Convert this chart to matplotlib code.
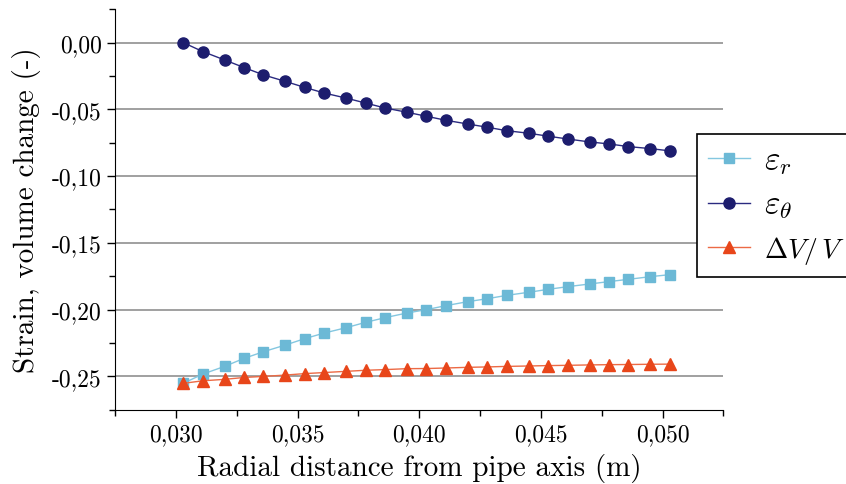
import matplotlib
matplotlib.use("Agg")
import matplotlib.pyplot as plt
from matplotlib.ticker import MultipleLocator, FuncFormatter

# radial positions (m)
radius = [0.0303, 0.0311, 0.0320, 0.0328, 0.0336, 0.0345, 0.0353, 0.0361, 0.0370,
          0.0378, 0.0386, 0.0395, 0.0403, 0.0411, 0.0420, 0.0428, 0.0436, 0.0445,
          0.0453, 0.0461, 0.0470, 0.0478, 0.0486, 0.0495, 0.0503]

eps_r = [-0.2552, -0.2483, -0.2425, -0.2365, -0.2315, -0.2265, -0.2217, -0.2175, -0.2135,
         -0.2095, -0.2060, -0.2025, -0.2000, -0.1970, -0.1940, -0.1918, -0.1893, -0.1870,
         -0.1848, -0.1828, -0.1808, -0.1790, -0.1773, -0.1753, -0.1738]

eps_theta = [0.0000, -0.0067, -0.0130, -0.0187, -0.0242, -0.0291, -0.0336, -0.0378, -0.0416,
             -0.0453, -0.0490, -0.0522, -0.0552, -0.0582, -0.0610, -0.0634, -0.0660, -0.0679,
             -0.0701, -0.0722, -0.0744, -0.0759, -0.0779, -0.0794, -0.0811]

dvv = [-0.2552, -0.2533, -0.2522, -0.2508, -0.2500, -0.2490, -0.2479, -0.2471, -0.2462,
       -0.2454, -0.2449, -0.2442, -0.2441, -0.2437, -0.2432, -0.2429, -0.2425, -0.2422,
       -0.2419, -0.2417, -0.2414, -0.2412, -0.2411, -0.2409, -0.2408]

plt.rcParams['font.family'] = 'cmr10'
plt.rcParams['mathtext.fontset'] = 'cm'
plt.rcParams['axes.unicode_minus'] = False
plt.rcParams['axes.formatter.use_mathtext'] = True

fig = plt.figure(figsize=(8.46, 4.85), dpi=100)
ax = fig.add_axes([0.136, 0.153, 0.719, 0.826])

for y in [0.0, -0.05, -0.10, -0.15, -0.20, -0.25]:
    ax.axhline(y, color='#999999', lw=1.3, zorder=0)

ax.plot(radius, eps_r, '-s', color='#84c7e0', mfc='#6cb9d6', mec='#6cb9d6', ms=7.5, lw=1.0,
        label=r'$\varepsilon_r$')
ax.plot(radius, eps_theta, '-o', color='#2a2a80', mfc='#1d1d6e', mec='#1d1d6e', ms=8, lw=1.0,
        label=r'$\varepsilon_\theta$')
ax.plot(radius, dvv, '-^', color='#ec6a45', mfc='#e8461a', mec='#e8461a', ms=8.5, lw=1.0,
        label=r'$\Delta V/\,V$')

ax.set_xlim(0.0275, 0.0525)
ax.set_ylim(-0.275, 0.025)
ax.xaxis.set_major_locator(MultipleLocator(0.005))
ax.xaxis.set_minor_locator(MultipleLocator(0.0025))
ax.yaxis.set_major_locator(MultipleLocator(0.05))
ax.yaxis.set_minor_locator(MultipleLocator(0.025))
ax.xaxis.set_major_formatter(FuncFormatter(lambda v, p: ('%.3f' % v).replace('.', ',')))
ax.yaxis.set_major_formatter(FuncFormatter(lambda v, p: ('%.2f' % v).replace('.', ',')))

for side in ['top', 'right']:
    ax.spines[side].set_visible(False)
ax.tick_params(which='major', direction='out', length=6, width=1, labelsize=17)
ax.tick_params(which='minor', direction='out', length=4, width=1)

ax.set_xlabel('Radial distance from pipe axis (m)', fontsize=21, labelpad=6)
ax.set_ylabel('Strain, volume change (-)', fontsize=21, labelpad=8)

leg = fig.legend(loc='upper left', bbox_to_anchor=(0.824, 0.722), fontsize=20,
                 frameon=True, fancybox=False, edgecolor='black', framealpha=1,
                 borderaxespad=0, handlelength=1.5, handletextpad=0.5,
                 labelspacing=0.5, borderpad=0.4)
leg.get_frame().set_linewidth(1.2)
for t in leg.get_texts()[:2]:
    t.set_fontsize(24)

fig.savefig('out.png', dpi=100)
